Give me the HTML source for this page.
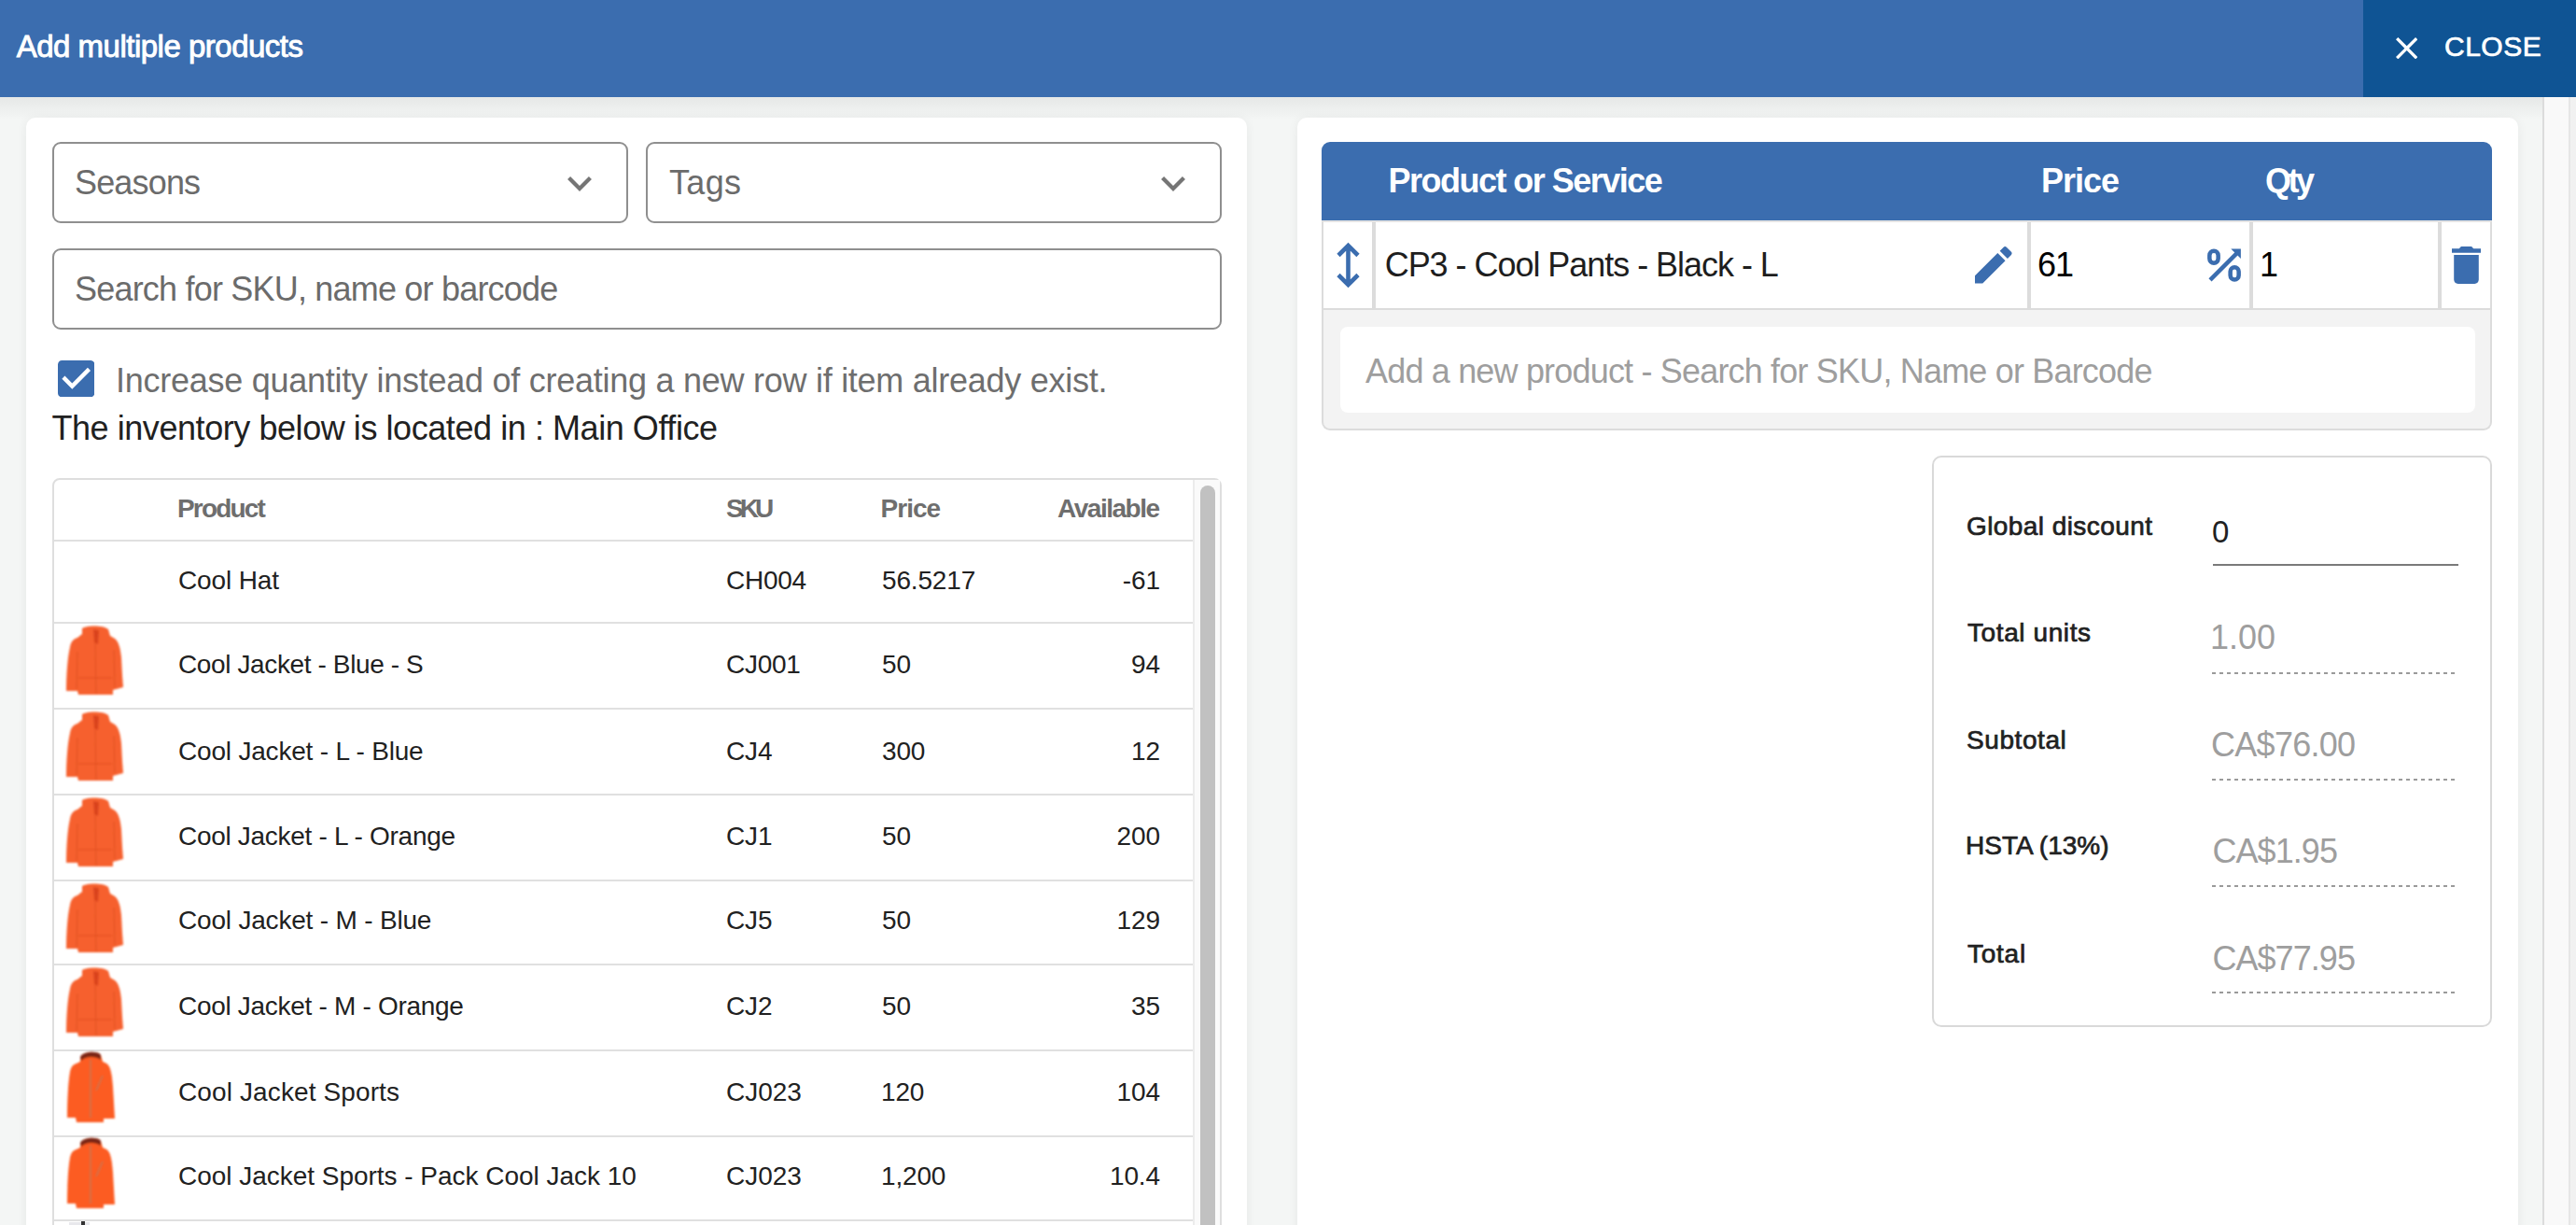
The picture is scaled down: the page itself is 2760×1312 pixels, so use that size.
<!DOCTYPE html>
<html><head><meta charset="utf-8">
<style>
*{box-sizing:border-box;margin:0;padding:0}
html,body{width:2760px;height:1312px;overflow:hidden}
body{position:relative;background:#f4f6f5;font-family:"Liberation Sans",sans-serif;color:#212121}
.a{position:absolute}
.t{position:absolute;white-space:nowrap}
svg{position:absolute;display:block}
</style></head><body>
<svg width="0" height="0" style="position:absolute"><defs><filter id="bl" x="-10%" y="-10%" width="120%" height="120%"><feGaussianBlur stdDeviation="1.0"/></filter></defs></svg>

<div class="a" style="left:0;top:0;width:2760px;height:104px;background:#3b6daf"></div>
<div class="a" style="left:0;top:104px;width:2760px;height:24px;background:linear-gradient(#e6e8e7,#f4f6f5)"></div>
<div class="a" style="left:2532px;top:0;width:228px;height:104px;background:#0f5494"></div>
<svg style="left:2566.8px;top:39.6px" width="23.4" height="23.4" viewBox="5 5 14 14"><path fill="#fff" d="M19 6.41L17.59 5 12 10.59 6.41 5 5 6.41 10.59 12 5 17.59 6.41 19 12 13.41 17.59 19 19 17.59 13.41 12z"/></svg>
<div class="a" style="left:2724px;top:104px;width:2px;height:1208px;background:#dcdcdc"></div>
<div class="a" style="left:2726px;top:104px;width:26px;height:1208px;background:#f9f9f9"></div>
<div class="a" style="left:2752px;top:104px;width:2px;height:1208px;background:#e6e6e6"></div>
<div class="a" style="left:2754px;top:104px;width:6px;height:1208px;background:#f1f1f1"></div>
<div class="a" style="left:28px;top:126px;width:1308px;height:1300px;background:#fff;border-radius:10px;box-shadow:0 1px 12px rgba(0,0,0,0.06)"></div>
<div class="a" style="left:1390px;top:126px;width:1308px;height:1300px;background:#fff;border-radius:10px;box-shadow:0 1px 12px rgba(0,0,0,0.06)"></div>
<div class="a" style="left:56px;top:152px;width:617px;height:87px;border:2px solid #8f8f8f;border-radius:9px"></div>
<div class="a" style="left:692px;top:152px;width:617px;height:87px;border:2px solid #8f8f8f;border-radius:9px"></div>
<div class="a" style="left:56px;top:266px;width:1253px;height:87px;border:2px solid #8f8f8f;border-radius:9px"></div>
<svg style="left:608px;top:189px" width="26" height="16" viewBox="6 8.59 12 7.41"><path fill="#757575" d="M16.59 8.59L12 13.17 7.41 8.59 6 10l6 6 6-6z"/></svg>
<svg style="left:1244px;top:189px" width="26" height="16" viewBox="6 8.59 12 7.41"><path fill="#757575" d="M16.59 8.59L12 13.17 7.41 8.59 6 10l6 6 6-6z"/></svg>
<svg style="left:61.6px;top:386.1px" width="39.4" height="39.4" viewBox="3 3 18 18"><path fill="#3b6daf" d="M19 3H5c-1.11 0-2 .9-2 2v14c0 1.1.89 2 2 2h14c1.11 0 2-.9 2-2V5c0-1.1-.89-2-2-2zm-9 14l-5-5 1.41-1.41L10 14.17l7.59-7.59L19 8l-9 9z"/></svg>
<div class="a" style="left:56px;top:512px;width:1253px;height:900px;border:2px solid #dedede;border-radius:8px"></div>
<div class="a" style="left:58px;top:578px;width:1220px;height:2px;background:#e0e0e0"></div>
<div class="a" style="left:58px;top:666px;width:1220px;height:2px;background:#e0e0e0"></div>
<div class="a" style="left:58px;top:758px;width:1220px;height:2px;background:#e0e0e0"></div>
<div class="a" style="left:58px;top:850px;width:1220px;height:2px;background:#e0e0e0"></div>
<div class="a" style="left:58px;top:942px;width:1220px;height:2px;background:#e0e0e0"></div>
<div class="a" style="left:58px;top:1032px;width:1220px;height:2px;background:#e0e0e0"></div>
<div class="a" style="left:58px;top:1124px;width:1220px;height:2px;background:#e0e0e0"></div>
<div class="a" style="left:58px;top:1216px;width:1220px;height:2px;background:#e0e0e0"></div>
<div class="a" style="left:58px;top:1306px;width:1220px;height:2px;background:#e0e0e0"></div>
<div class="a" style="left:1278px;top:514px;width:2px;height:800px;background:#ececec"></div>
<div class="a" style="left:1280px;top:514px;width:27px;height:800px;background:#fafafa"></div>
<div class="a" style="left:1286px;top:520px;width:16px;height:800px;background:#c1c1c1;border-radius:8px"></div>
<svg style="left:62px;top:668px" width="80" height="80" viewBox="0 0 80 80"><g filter="url(#bl)"><path fill="#f6612f" d="M26 5C31 1.5 49 1.5 54 6L56 13 61 16C65 19 67 26 68 36L69 55 70 68 59 71 59 76 22 76 21 72 9 72C9 58 10 38 13 25 14 19 17 16 21 15L26 11Z"/><path fill="#d9431c" d="M38 6L44 7 43 22 39 20Z"/><path fill="none" stroke="#e04e22" stroke-width="1" d="M40 20L41 75M21 30L20 70M60 28L61 68M22 58L58 58"/></g></svg>
<svg style="left:62px;top:760px" width="80" height="80" viewBox="0 0 80 80"><g filter="url(#bl)"><path fill="#f6612f" d="M26 5C31 1.5 49 1.5 54 6L56 13 61 16C65 19 67 26 68 36L69 55 70 68 59 71 59 76 22 76 21 72 9 72C9 58 10 38 13 25 14 19 17 16 21 15L26 11Z"/><path fill="#d9431c" d="M38 6L44 7 43 22 39 20Z"/><path fill="none" stroke="#e04e22" stroke-width="1" d="M40 20L41 75M21 30L20 70M60 28L61 68M22 58L58 58"/></g></svg>
<svg style="left:62px;top:852px" width="80" height="80" viewBox="0 0 80 80"><g filter="url(#bl)"><path fill="#f6612f" d="M26 5C31 1.5 49 1.5 54 6L56 13 61 16C65 19 67 26 68 36L69 55 70 68 59 71 59 76 22 76 21 72 9 72C9 58 10 38 13 25 14 19 17 16 21 15L26 11Z"/><path fill="#d9431c" d="M38 6L44 7 43 22 39 20Z"/><path fill="none" stroke="#e04e22" stroke-width="1" d="M40 20L41 75M21 30L20 70M60 28L61 68M22 58L58 58"/></g></svg>
<svg style="left:62px;top:944px" width="80" height="80" viewBox="0 0 80 80"><g filter="url(#bl)"><path fill="#f6612f" d="M26 5C31 1.5 49 1.5 54 6L56 13 61 16C65 19 67 26 68 36L69 55 70 68 59 71 59 76 22 76 21 72 9 72C9 58 10 38 13 25 14 19 17 16 21 15L26 11Z"/><path fill="#d9431c" d="M38 6L44 7 43 22 39 20Z"/><path fill="none" stroke="#e04e22" stroke-width="1" d="M40 20L41 75M21 30L20 70M60 28L61 68M22 58L58 58"/></g></svg>
<svg style="left:62px;top:1034px" width="80" height="80" viewBox="0 0 80 80"><g filter="url(#bl)"><path fill="#f6612f" d="M26 5C31 1.5 49 1.5 54 6L56 13 61 16C65 19 67 26 68 36L69 55 70 68 59 71 59 76 22 76 21 72 9 72C9 58 10 38 13 25 14 19 17 16 21 15L26 11Z"/><path fill="#d9431c" d="M38 6L44 7 43 22 39 20Z"/><path fill="none" stroke="#e04e22" stroke-width="1" d="M40 20L41 75M21 30L20 70M60 28L61 68M22 58L58 58"/></g></svg>
<svg style="left:62px;top:1124px" width="80" height="80" viewBox="0 0 80 80"><g filter="url(#bl)"><path fill="#fc5b20" d="M24 8C27 2 43 1 46 6L48 13 52 15C56 17 58 25 59 40L61 74 49 74 49 78 20 78 19 73 10 73C10 55 11 35 13 24 14 19 16 16 20 15L24 13Z"/><path fill="#7a2612" d="M24 8C27 2 43 1 46 6L46 11C40 7 30 7 25 12Z"/><path fill="none" stroke="#c8744c" stroke-width="1.6" d="M35 11L35 73M48 28L41 44"/></g></svg>
<svg style="left:62px;top:1216px" width="80" height="80" viewBox="0 0 80 80"><g filter="url(#bl)"><path fill="#fc5b20" d="M24 8C27 2 43 1 46 6L48 13 52 15C56 17 58 25 59 40L61 74 49 74 49 78 20 78 19 73 10 73C10 55 11 35 13 24 14 19 16 16 20 15L24 13Z"/><path fill="#7a2612" d="M24 8C27 2 43 1 46 6L46 11C40 7 30 7 25 12Z"/><path fill="none" stroke="#c8744c" stroke-width="1.6" d="M35 11L35 73M48 28L41 44"/></g></svg>
<div class="a" style="left:74px;top:1309px;width:22px;height:3px;background:#e8e8ec"></div><div class="a" style="left:87px;top:1308px;width:4px;height:4px;background:#333"></div>
<div class="a" style="left:1416px;top:152px;width:1254px;height:84px;background:#3b6daf;border-radius:9px 9px 0 0"></div>
<div class="a" style="left:1416px;top:236px;width:1254px;height:96px;border:2px solid #dcdcdc;border-top-color:#e4e4e4"></div>
<div class="a" style="left:1470px;top:238px;width:4px;height:92px;background:#dcdcdc"></div>
<div class="a" style="left:2172px;top:238px;width:4px;height:92px;background:#dcdcdc"></div>
<div class="a" style="left:2410px;top:238px;width:4px;height:92px;background:#dcdcdc"></div>
<div class="a" style="left:2612px;top:238px;width:4px;height:92px;background:#dcdcdc"></div>
<div class="a" style="left:1416px;top:332px;width:1254px;height:129px;background:#f3f3f3;border:2px solid #dcdcdc;border-top:none;border-radius:0 0 9px 9px"></div>
<div class="a" style="left:1436px;top:350px;width:1216px;height:92px;background:#fff;border-radius:8px"></div>
<svg style="left:1432px;top:259px" width="25" height="50" viewBox="0 0 25 50"><path fill="none" stroke="#3b6daf" stroke-width="4.6" d="M12.5 4V46M2 14.5L12.5 4 23 14.5M2 35.5L12.5 46 23 35.5"/></svg>
<svg style="left:2116px;top:264px" width="39.6" height="39.6" viewBox="3 3 18 18"><path fill="#3b6daf" d="M3 17.25V21h3.75L17.81 9.94l-3.75-3.75L3 17.25zM20.71 7.04c.39-.39.39-1.02 0-1.41l-2.34-2.34c-.39-.39-1.02-.39-1.41 0l-1.83 1.83 3.75 3.75 1.83-1.83z"/></svg>
<svg style="left:2360px;top:262px" width="45" height="45" viewBox="0 0 45 45"><g fill="none" stroke="#3b6daf" stroke-width="4.5"><rect x="7.35" y="6.85" width="9.3" height="12.9" rx="4.65"/><rect x="29.65" y="24.25" width="9" height="13.2" rx="4.5"/><path d="M8 37.8L37.5 8.3"/></g><path fill="#3b6daf" d="M30.3 4.6H40.9V15.1Z"/></svg>
<svg style="left:2627px;top:264px" width="31" height="40" viewBox="5 3 14 18"><path fill="#3b6daf" d="M6 19c0 1.1.9 2 2 2h8c1.1 0 2-.9 2-2V7H6v12zM19 4h-3.5l-1-1h-5l-1 1H5v2h14V4z"/></svg>
<div class="a" style="left:2070px;top:488px;width:600px;height:612px;border:2px solid #d9d9d9;border-radius:10px"></div>
<div class="a" style="left:2371px;top:604px;width:263px;height:2px;background:#7a7a7a"></div>
<div class="a" style="left:2370px;top:720px;width:260px;height:2px;background:repeating-linear-gradient(90deg,#9a9a9a 0 4px,transparent 4px 8px)"></div>
<div class="a" style="left:2370px;top:834px;width:260px;height:2px;background:repeating-linear-gradient(90deg,#9a9a9a 0 4px,transparent 4px 8px)"></div>
<div class="a" style="left:2370px;top:948px;width:260px;height:2px;background:repeating-linear-gradient(90deg,#9a9a9a 0 4px,transparent 4px 8px)"></div>
<div class="a" style="left:2370px;top:1062px;width:260px;height:2px;background:repeating-linear-gradient(90deg,#9a9a9a 0 4px,transparent 4px 8px)"></div>
<div class="t" id="title" style="top:32.67px;font-size:33px;line-height:33px;color:#fff;letter-spacing:-0.500px;font-weight:normal;-webkit-text-stroke:0.9px #fff;left:17.70px">Add multiple products</div>
<div class="t" id="close" style="top:34.61px;font-size:30px;line-height:30px;color:#fff;letter-spacing:0.500px;font-weight:normal;-webkit-text-stroke:0.7px #fff;left:2619.00px">CLOSE</div>
<div class="t" id="seasons" style="top:177.53px;font-size:36px;line-height:36px;color:#6b6b6b;letter-spacing:-0.833px;font-weight:normal;left:80.00px">Seasons</div>
<div class="t" id="tags" style="top:178.03px;font-size:36px;line-height:36px;color:#6b6b6b;letter-spacing:0.333px;font-weight:normal;left:717.00px">Tags</div>
<div class="t" id="search" style="top:291.53px;font-size:36px;line-height:36px;color:#6b6b6b;letter-spacing:-0.800px;font-weight:normal;left:80.00px">Search for SKU, name or barcode</div>
<div class="t" id="incq" style="top:389.53px;font-size:36px;line-height:36px;color:#6e6e6e;letter-spacing:-0.261px;font-weight:normal;left:124.00px">Increase quantity instead of creating a new row if item already exist.</div>
<div class="t" id="inv" style="top:441.23px;font-size:36px;line-height:36px;color:#212121;letter-spacing:-0.435px;font-weight:normal;left:55.40px">The inventory below is located in : Main Office</div>
<div class="t" id="h_prod" style="top:530.50px;font-size:28px;line-height:28px;color:#6e6e6e;letter-spacing:-1.833px;font-weight:bold;left:190.00px">Product</div>
<div class="t" id="h_sku" style="top:530.50px;font-size:28px;line-height:28px;color:#6e6e6e;letter-spacing:-4.000px;font-weight:bold;left:778.00px">SKU</div>
<div class="t" id="h_price" style="top:530.50px;font-size:28px;line-height:28px;color:#6e6e6e;letter-spacing:-1.000px;font-weight:bold;left:943.60px">Price</div>
<div class="t" id="h_avail" style="top:530.50px;font-size:28px;line-height:28px;color:#6e6e6e;letter-spacing:-1.500px;font-weight:bold;right:1518.50px">Available</div>
<div class="t" id="r_hprod" style="top:175.83px;font-size:36px;line-height:36px;color:#fff;letter-spacing:-1.529px;font-weight:bold;left:1487.60px">Product or Service</div>
<div class="t" id="r_hprice" style="top:175.83px;font-size:36px;line-height:36px;color:#fff;letter-spacing:-1.000px;font-weight:bold;left:2187.00px">Price</div>
<div class="t" id="r_hqty" style="top:175.83px;font-size:36px;line-height:36px;color:#fff;letter-spacing:-3.500px;font-weight:bold;left:2427.00px">Qty</div>
<div class="t" id="r_name" style="top:265.53px;font-size:36px;line-height:36px;color:#1e1e1e;letter-spacing:-1.037px;font-weight:normal;left:1483.70px">CP3 - Cool Pants - Black - L</div>
<div class="t" id="r_price" style="top:265.53px;font-size:36px;line-height:36px;color:#000;letter-spacing:-1.000px;font-weight:normal;left:2183.00px">61</div>
<div class="t" id="r_qty" style="top:265.53px;font-size:36px;line-height:36px;color:#000;letter-spacing:0.000px;font-weight:normal;left:2421.00px">1</div>
<div class="t" id="r_ph" style="top:379.53px;font-size:36px;line-height:36px;color:#9e9e9e;letter-spacing:-0.820px;font-weight:normal;left:1463.00px">Add a new product - Search for SKU, Name or Barcode</div>
<div class="t" id="s_gd" style="top:550.00px;font-size:28px;line-height:28px;color:#212121;letter-spacing:0.429px;font-weight:normal;-webkit-text-stroke:0.7px #212121;left:2107.00px">Global discount</div>
<div class="t" id="s_gdv" style="top:553.07px;font-size:33px;line-height:33px;color:#212121;letter-spacing:0.000px;font-weight:normal;left:2370.00px">0</div>
<div class="t" id="s_tu" style="top:664.00px;font-size:28px;line-height:28px;color:#212121;letter-spacing:0.600px;font-weight:normal;-webkit-text-stroke:0.7px #212121;left:2108.00px">Total units</div>
<div class="t" id="s_tuv" style="top:665.23px;font-size:36px;line-height:36px;color:#9e9e9e;letter-spacing:0.000px;font-weight:normal;left:2368.00px">1.00</div>
<div class="t" id="s_st" style="top:778.90px;font-size:28px;line-height:28px;color:#212121;letter-spacing:0.571px;font-weight:normal;-webkit-text-stroke:0.7px #212121;left:2107.00px">Subtotal</div>
<div class="t" id="s_stv" style="top:779.53px;font-size:36px;line-height:36px;color:#9e9e9e;letter-spacing:-0.714px;font-weight:normal;left:2369.00px">CA$76.00</div>
<div class="t" id="s_hs" style="top:892.00px;font-size:28px;line-height:28px;color:#212121;letter-spacing:-0.000px;font-weight:normal;-webkit-text-stroke:0.7px #212121;left:2106.00px">HSTA (13%)</div>
<div class="t" id="s_hsv" style="top:893.53px;font-size:36px;line-height:36px;color:#9e9e9e;letter-spacing:-0.930px;font-weight:normal;left:2370.40px">CA$1.95</div>
<div class="t" id="s_to" style="top:1008.10px;font-size:28px;line-height:28px;color:#212121;letter-spacing:0.750px;font-weight:normal;-webkit-text-stroke:0.7px #212121;left:2108.00px">Total</div>
<div class="t" id="s_tov" style="top:1009.43px;font-size:36px;line-height:36px;color:#9e9e9e;letter-spacing:-0.935px;font-weight:normal;left:2370.40px">CA$77.95</div>
<div class="t" id="n0" style="top:608.30px;font-size:28px;line-height:28px;color:#212121;letter-spacing:-0.143px;font-weight:normal;left:191.00px">Cool Hat</div>
<div class="t" id="s0" style="top:608.30px;font-size:28px;line-height:28px;color:#212121;letter-spacing:-0.250px;font-weight:normal;left:778.00px">CH004</div>
<div class="t" id="p0" style="top:608.30px;font-size:28px;line-height:28px;color:#212121;letter-spacing:-0.160px;font-weight:normal;left:945.00px">56.5217</div>
<div class="t" id="a0" style="top:608.30px;font-size:28px;line-height:28px;color:#212121;letter-spacing:-0.160px;font-weight:normal;right:1517.16px">-61</div>
<div class="t" id="n1" style="top:698.30px;font-size:28px;line-height:28px;color:#212121;letter-spacing:-0.381px;font-weight:normal;left:191.00px">Cool Jacket - Blue - S</div>
<div class="t" id="s1" style="top:698.30px;font-size:28px;line-height:28px;color:#212121;letter-spacing:-0.250px;font-weight:normal;left:778.00px">CJ001</div>
<div class="t" id="p1" style="top:698.30px;font-size:28px;line-height:28px;color:#212121;letter-spacing:-0.160px;font-weight:normal;left:945.00px">50</div>
<div class="t" id="a1" style="top:698.30px;font-size:28px;line-height:28px;color:#212121;letter-spacing:-0.160px;font-weight:normal;right:1517.16px">94</div>
<div class="t" id="n2" style="top:790.80px;font-size:28px;line-height:28px;color:#212121;letter-spacing:-0.190px;font-weight:normal;left:191.00px">Cool Jacket - L - Blue</div>
<div class="t" id="s2" style="top:790.80px;font-size:28px;line-height:28px;color:#212121;letter-spacing:-0.160px;font-weight:normal;left:778.00px">CJ4</div>
<div class="t" id="p2" style="top:790.80px;font-size:28px;line-height:28px;color:#212121;letter-spacing:-0.160px;font-weight:normal;left:945.00px">300</div>
<div class="t" id="a2" style="top:790.80px;font-size:28px;line-height:28px;color:#212121;letter-spacing:-0.160px;font-weight:normal;right:1517.16px">12</div>
<div class="t" id="n3" style="top:882.30px;font-size:28px;line-height:28px;color:#212121;letter-spacing:-0.304px;font-weight:normal;left:191.00px">Cool Jacket - L - Orange</div>
<div class="t" id="s3" style="top:882.30px;font-size:28px;line-height:28px;color:#212121;letter-spacing:-0.160px;font-weight:normal;left:778.00px">CJ1</div>
<div class="t" id="p3" style="top:882.30px;font-size:28px;line-height:28px;color:#212121;letter-spacing:-0.160px;font-weight:normal;left:945.00px">50</div>
<div class="t" id="a3" style="top:882.30px;font-size:28px;line-height:28px;color:#212121;letter-spacing:-0.160px;font-weight:normal;right:1517.16px">200</div>
<div class="t" id="n4" style="top:972.30px;font-size:28px;line-height:28px;color:#212121;letter-spacing:-0.190px;font-weight:normal;left:191.00px">Cool Jacket - M - Blue</div>
<div class="t" id="s4" style="top:972.30px;font-size:28px;line-height:28px;color:#212121;letter-spacing:-0.160px;font-weight:normal;left:778.00px">CJ5</div>
<div class="t" id="p4" style="top:972.30px;font-size:28px;line-height:28px;color:#212121;letter-spacing:-0.160px;font-weight:normal;left:945.00px">50</div>
<div class="t" id="a4" style="top:972.30px;font-size:28px;line-height:28px;color:#212121;letter-spacing:-0.160px;font-weight:normal;right:1517.16px">129</div>
<div class="t" id="n5" style="top:1063.80px;font-size:28px;line-height:28px;color:#212121;letter-spacing:-0.304px;font-weight:normal;left:191.00px">Cool Jacket - M - Orange</div>
<div class="t" id="s5" style="top:1063.80px;font-size:28px;line-height:28px;color:#212121;letter-spacing:-0.160px;font-weight:normal;left:778.00px">CJ2</div>
<div class="t" id="p5" style="top:1063.80px;font-size:28px;line-height:28px;color:#212121;letter-spacing:-0.160px;font-weight:normal;left:945.00px">50</div>
<div class="t" id="a5" style="top:1063.80px;font-size:28px;line-height:28px;color:#212121;letter-spacing:-0.160px;font-weight:normal;right:1517.16px">35</div>
<div class="t" id="n6" style="top:1156.30px;font-size:28px;line-height:28px;color:#212121;letter-spacing:0.118px;font-weight:normal;left:191.00px">Cool Jacket Sports</div>
<div class="t" id="s6" style="top:1156.30px;font-size:28px;line-height:28px;color:#212121;letter-spacing:0.000px;font-weight:normal;left:778.00px">CJ023</div>
<div class="t" id="p6" style="top:1156.30px;font-size:28px;line-height:28px;color:#212121;letter-spacing:-0.160px;font-weight:normal;left:944.00px">120</div>
<div class="t" id="a6" style="top:1156.30px;font-size:28px;line-height:28px;color:#212121;letter-spacing:-0.160px;font-weight:normal;right:1517.16px">104</div>
<div class="t" id="n7" style="top:1246.30px;font-size:28px;line-height:28px;color:#212121;letter-spacing:-0.027px;font-weight:normal;left:191.00px">Cool Jacket Sports - Pack Cool Jack 10</div>
<div class="t" id="s7" style="top:1246.30px;font-size:28px;line-height:28px;color:#212121;letter-spacing:0.000px;font-weight:normal;left:778.00px">CJ023</div>
<div class="t" id="p7" style="top:1246.30px;font-size:28px;line-height:28px;color:#212121;letter-spacing:-0.160px;font-weight:normal;left:944.00px">1,200</div>
<div class="t" id="a7" style="top:1246.30px;font-size:28px;line-height:28px;color:#212121;letter-spacing:-0.160px;font-weight:normal;right:1517.16px">10.4</div>
<script>(function(){var w=window.innerWidth;if(w&&w!==2760){document.documentElement.style.zoom=w/2760;}})();</script>
</body></html>
